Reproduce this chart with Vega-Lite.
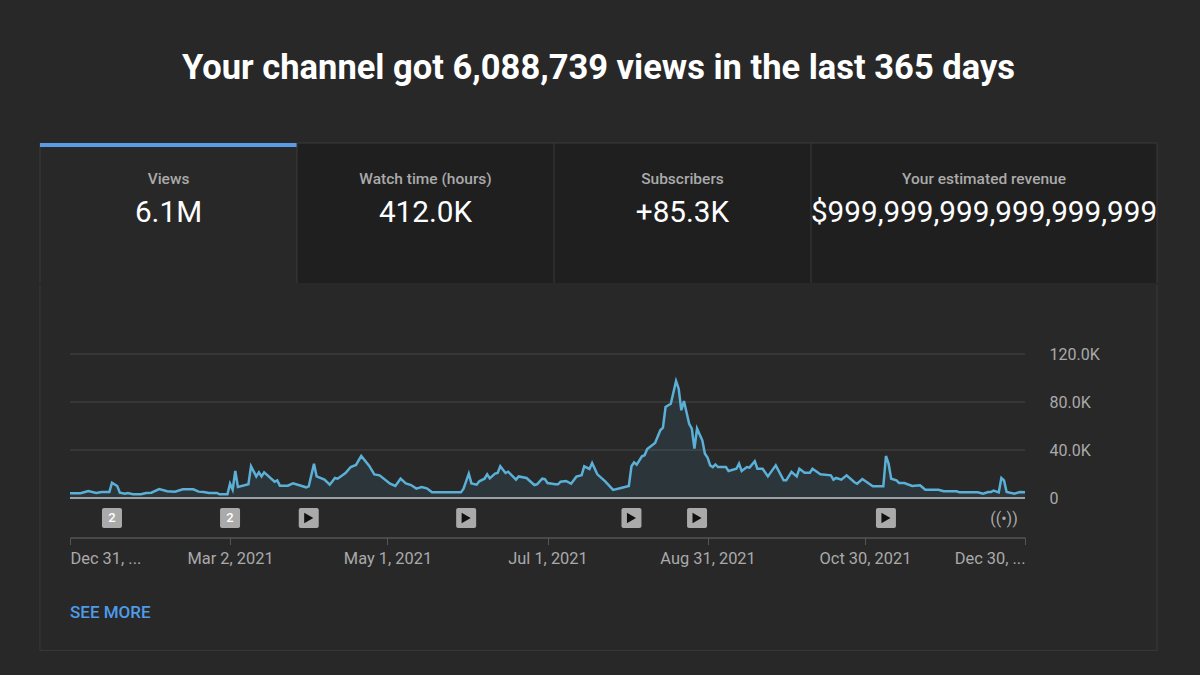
{
  "$schema": "https://vega.github.io/schema/vega-lite/v6.json",
  "background": "#282828",
  "padding": {"left": 38, "top": 0, "right": 43, "bottom": 25},
  "spacing": 0,
  "config": {"font": "Roboto", "concat": {"spacing": 0}},
  "datasets": {
    "views": [
      {"date":"2020-12-31","views":3900},{"date":"2021-01-04","views":3900},{"date":"2021-01-07","views":5800},{"date":"2021-01-10","views":4200},{"date":"2021-01-12","views":5000},{"date":"2021-01-15","views":5000},{"date":"2021-01-16","views":12800},{"date":"2021-01-18","views":10000},{"date":"2021-01-19","views":4400},{"date":"2021-01-21","views":3600},{"date":"2021-01-22","views":4200},{"date":"2021-01-24","views":3100},{"date":"2021-01-27","views":3100},{"date":"2021-01-29","views":4200},{"date":"2021-01-31","views":4400},
      {"date":"2021-02-03","views":7500},{"date":"2021-02-06","views":5600},{"date":"2021-02-09","views":5300},{"date":"2021-02-12","views":7200},{"date":"2021-02-16","views":7200},{"date":"2021-02-18","views":5300},{"date":"2021-02-20","views":5000},{"date":"2021-02-22","views":4200},{"date":"2021-02-25","views":4200},{"date":"2021-02-26","views":3100},
      {"date":"2021-03-01","views":3100},{"date":"2021-03-02","views":11900},{"date":"2021-03-03","views":6900},{"date":"2021-03-04","views":22500},{"date":"2021-03-05","views":9200},{"date":"2021-03-09","views":11400},{"date":"2021-03-10","views":26400},{"date":"2021-03-12","views":18000},{"date":"2021-03-13","views":21400},{"date":"2021-03-14","views":18000},{"date":"2021-03-15","views":21400},{"date":"2021-03-19","views":13600},{"date":"2021-03-20","views":14700},{"date":"2021-03-21","views":10300},{"date":"2021-03-24","views":10300},{"date":"2021-03-26","views":12200},{"date":"2021-03-31","views":8900},
      {"date":"2021-04-01","views":9700},{"date":"2021-04-03","views":28600},{"date":"2021-04-04","views":18000},{"date":"2021-04-07","views":15300},{"date":"2021-04-09","views":11100},{"date":"2021-04-11","views":16700},{"date":"2021-04-12","views":16100},{"date":"2021-04-15","views":20800},{"date":"2021-04-17","views":25800},{"date":"2021-04-19","views":27500},{"date":"2021-04-21","views":35000},{"date":"2021-04-24","views":26900},{"date":"2021-04-26","views":19700},{"date":"2021-04-28","views":18900},
      {"date":"2021-05-02","views":11900},{"date":"2021-05-04","views":10000},{"date":"2021-05-06","views":16100},{"date":"2021-05-08","views":12200},{"date":"2021-05-10","views":10800},{"date":"2021-05-12","views":7800},{"date":"2021-05-14","views":9200},{"date":"2021-05-16","views":8100},{"date":"2021-05-18","views":4700},{"date":"2021-05-29","views":4700},{"date":"2021-05-30","views":7800},
      {"date":"2021-06-01","views":20300},{"date":"2021-06-02","views":12200},{"date":"2021-06-04","views":11100},{"date":"2021-06-05","views":13900},{"date":"2021-06-07","views":16100},{"date":"2021-06-08","views":19700},{"date":"2021-06-09","views":16400},{"date":"2021-06-11","views":20300},{"date":"2021-06-12","views":20800},{"date":"2021-06-13","views":26400},{"date":"2021-06-15","views":20800},{"date":"2021-06-16","views":21900},{"date":"2021-06-19","views":15300},{"date":"2021-06-20","views":18000},{"date":"2021-06-23","views":16700},{"date":"2021-06-26","views":10800},{"date":"2021-06-27","views":11400},{"date":"2021-06-29","views":16100},{"date":"2021-06-30","views":15800},
      {"date":"2021-07-01","views":12500},{"date":"2021-07-04","views":11400},{"date":"2021-07-05","views":11400},{"date":"2021-07-06","views":13600},{"date":"2021-07-08","views":14200},{"date":"2021-07-10","views":11900},{"date":"2021-07-12","views":17800},{"date":"2021-07-14","views":18900},{"date":"2021-07-15","views":26400},{"date":"2021-07-17","views":24200},{"date":"2021-07-18","views":29200},{"date":"2021-07-20","views":19700},{"date":"2021-07-23","views":13900},{"date":"2021-07-26","views":6700},{"date":"2021-07-29","views":8300},
      {"date":"2021-08-01","views":10000},{"date":"2021-08-02","views":26400},{"date":"2021-08-03","views":29700},{"date":"2021-08-04","views":27800},{"date":"2021-08-06","views":34700},{"date":"2021-08-07","views":35600},{"date":"2021-08-08","views":40800},{"date":"2021-08-11","views":45800},{"date":"2021-08-13","views":56400},{"date":"2021-08-14","views":58600},{"date":"2021-08-15","views":75800},{"date":"2021-08-17","views":78600},{"date":"2021-08-19","views":97500},{"date":"2021-08-20","views":91100},{"date":"2021-08-21","views":73100},{"date":"2021-08-22","views":80800},{"date":"2021-08-24","views":61900},{"date":"2021-08-25","views":57800},{"date":"2021-08-26","views":41100},{"date":"2021-08-27","views":57800},{"date":"2021-08-29","views":48100},{"date":"2021-08-30","views":36900},{"date":"2021-08-31","views":33600},
      {"date":"2021-09-01","views":27200},{"date":"2021-09-02","views":25800},{"date":"2021-09-03","views":28000},{"date":"2021-09-04","views":25800},{"date":"2021-09-07","views":25800},{"date":"2021-09-08","views":22500},{"date":"2021-09-11","views":24400},{"date":"2021-09-12","views":28600},{"date":"2021-09-13","views":22500},{"date":"2021-09-15","views":25800},{"date":"2021-09-16","views":25300},{"date":"2021-09-18","views":30600},{"date":"2021-09-19","views":24400},{"date":"2021-09-21","views":24400},{"date":"2021-09-23","views":18000},{"date":"2021-09-26","views":27200},{"date":"2021-09-29","views":14700},{"date":"2021-09-30","views":14700},
      {"date":"2021-10-02","views":21700},{"date":"2021-10-04","views":18000},{"date":"2021-10-05","views":24400},{"date":"2021-10-07","views":21100},{"date":"2021-10-09","views":21100},{"date":"2021-10-10","views":24400},{"date":"2021-10-13","views":19700},{"date":"2021-10-17","views":18900},{"date":"2021-10-18","views":15300},{"date":"2021-10-19","views":16700},{"date":"2021-10-21","views":15300},{"date":"2021-10-23","views":18900},{"date":"2021-10-26","views":13100},{"date":"2021-10-27","views":11900},{"date":"2021-10-29","views":15800},
      {"date":"2021-11-02","views":9700},{"date":"2021-11-06","views":9700},{"date":"2021-11-07","views":35000},{"date":"2021-11-08","views":28600},{"date":"2021-11-09","views":16100},{"date":"2021-11-11","views":14700},{"date":"2021-11-12","views":12500},{"date":"2021-11-14","views":12500},{"date":"2021-11-17","views":10000},{"date":"2021-11-20","views":10600},{"date":"2021-11-22","views":6900},{"date":"2021-11-27","views":6900},{"date":"2021-11-29","views":5600},
      {"date":"2021-12-04","views":5600},{"date":"2021-12-05","views":4700},{"date":"2021-12-12","views":4700},{"date":"2021-12-14","views":3600},{"date":"2021-12-16","views":5000},{"date":"2021-12-17","views":5000},{"date":"2021-12-18","views":6100},{"date":"2021-12-20","views":4700},{"date":"2021-12-21","views":16700},{"date":"2021-12-22","views":14700},{"date":"2021-12-23","views":5000},{"date":"2021-12-26","views":3600},{"date":"2021-12-28","views":5000},{"date":"2021-12-30","views":4700}
    ],
    "markers": [
      {"date":"2021-01-16","kind":"2"},{"date":"2021-03-02","kind":"2"},{"date":"2021-04-01","kind":"play"},{"date":"2021-05-31","kind":"play"},{"date":"2021-08-02","kind":"play"},{"date":"2021-08-27","kind":"play"},{"date":"2021-11-07","kind":"play"},{"date":"2021-12-22","kind":"live"}
    ],
    "gridlines": [
      {"level":0,"from":"2020-12-31","to":"2021-12-30"},{"level":40000,"from":"2020-12-31","to":"2021-12-30"},{"level":80000,"from":"2020-12-31","to":"2021-12-30"},{"level":120000,"from":"2020-12-31","to":"2021-12-30"}
    ],
    "frame": [{"date":"2020-12-19T13:00:00Z"},{"date":"2022-02-18T08:00:00Z"}]
  },
  "vconcat": [
    {
      "width": 1117, "height": 142, "view": {"stroke": null},
      "data": {"values": [{"headline": "Your channel got 6,088,739 views in the last 365 days"}]},
      "mark": {"type": "text", "color": "#ffffff", "fontSize": 34.5, "fontWeight": "bold"},
      "encoding": {
        "text": {"field": "headline"},
        "y": {"datum": 69, "scale": {"domain": [142, 0], "nice": false, "zero": false}, "axis": null}
      }
    },
    {
      "spacing": 0,
      "bounds": "flush",
      "hconcat": [
        {
          "width": 257, "height": 140, "view": {"fill": "#282828", "stroke": null},
          "data": {"values": [{"label": "Views", "value": "6.1M"}]},
          "layer": [
            {"mark": {"type": "rule", "color": "#3a3a3a"}, "encoding": {"x": {"datum": 0, "scale": {"domain": [0, 1]}, "axis": null}}},
            {"mark": {"type": "rule", "color": "#5a9be8", "strokeWidth": 4}, "encoding": {"y": {"datum": 2, "scale": {"domain": [140, 0], "nice": false, "zero": false}, "axis": null}}},
            {"mark": {"type": "text", "color": "#aaaaaa", "fontSize": 15.5, "fontWeight": 500}, "encoding": {"text": {"field": "label"}, "y": {"datum": 36}}},
            {"mark": {"type": "text", "color": "#ffffff", "fontSize": 29.7}, "encoding": {"text": {"field": "value"}, "y": {"datum": 70}}}
          ]
        },
        {
          "width": 257, "height": 140, "view": {"fill": "#1f1f1f", "stroke": null},
          "data": {"values": [{"label": "Watch time (hours)", "value": "412.0K"}]},
          "layer": [
            {"mark": {"type": "rule", "color": "#3a3a3a"}, "encoding": {"x": {"datum": 0, "scale": {"domain": [0, 1]}, "axis": null}}},
            {"mark": {"type": "rule", "color": "#3a3a3a"}, "encoding": {"y": {"datum": 0, "scale": {"domain": [140, 0], "nice": false, "zero": false}, "axis": null}}},
            {"mark": {"type": "text", "color": "#aaaaaa", "fontSize": 15.5, "fontWeight": 500}, "encoding": {"text": {"field": "label"}, "y": {"datum": 36}}},
            {"mark": {"type": "text", "color": "#ffffff", "fontSize": 29.7}, "encoding": {"text": {"field": "value"}, "y": {"datum": 70}}}
          ]
        },
        {
          "width": 257, "height": 140, "view": {"fill": "#1f1f1f", "stroke": null},
          "data": {"values": [{"label": "Subscribers", "value": "+85.3K"}]},
          "layer": [
            {"mark": {"type": "rule", "color": "#3a3a3a"}, "encoding": {"x": {"datum": 0, "scale": {"domain": [0, 1]}, "axis": null}}},
            {"mark": {"type": "rule", "color": "#3a3a3a"}, "encoding": {"y": {"datum": 0, "scale": {"domain": [140, 0], "nice": false, "zero": false}, "axis": null}}},
            {"mark": {"type": "text", "color": "#aaaaaa", "fontSize": 15.5, "fontWeight": 500}, "encoding": {"text": {"field": "label"}, "y": {"datum": 36}}},
            {"mark": {"type": "text", "color": "#ffffff", "fontSize": 29.7}, "encoding": {"text": {"field": "value"}, "y": {"datum": 70}}}
          ]
        },
        {
          "width": 346, "height": 140, "view": {"fill": "#1f1f1f", "stroke": null},
          "data": {"values": [{"label": "Your estimated revenue", "value": "$999,999,999,999,999,999"}]},
          "layer": [
            {"mark": {"type": "rule", "color": "#3a3a3a"}, "encoding": {"x": {"datum": 0, "scale": {"domain": [0, 1]}, "axis": null}}},
            {"mark": {"type": "rule", "color": "#3a3a3a"}, "encoding": {"x": {"datum": 1}}},
            {"mark": {"type": "rule", "color": "#3a3a3a"}, "encoding": {"y": {"datum": 0, "scale": {"domain": [140, 0], "nice": false, "zero": false}, "axis": null}}},
            {"mark": {"type": "text", "color": "#aaaaaa", "fontSize": 15.5, "fontWeight": 500}, "encoding": {"text": {"field": "label"}, "y": {"datum": 36}}},
            {"mark": {"type": "text", "color": "#ffffff", "fontSize": 29.7}, "encoding": {"text": {"field": "value"}, "y": {"datum": 70}}}
          ]
        }
      ]
    },
    {
      "width": 1117,
      "height": 366,
      "view": {"stroke": null},
      "encoding": {
        "x": {
          "field": "date",
          "type": "temporal",
          "title": null,
          "scale": {"type": "utc", "domain": ["2020-12-31", "2021-12-30"], "range": [30, 985], "nice": false},
          "axis": {
            "orient": "bottom", "offset": -113.5, "grid": false,
            "values": ["2020-12-31", "2021-03-02", "2021-05-01", "2021-07-01", "2021-08-31", "2021-10-30", "2021-12-30"],
            "labelExpr": "datum.index == 0 ? 'Dec 31, ...' : datum.index == 1 ? 'Dec 30, ...' : utcFormat(datum.value, '%b %-d, %Y')",
            "labelFlush": true, "labelOverlap": false, "labelColor": "#aaaaaa", "labelFontSize": 16.4, "labelPadding": 5.5,
            "domainColor": "#555555", "domainWidth": 1.5, "tickColor": "#555555", "tickSize": 7
          }
        }
      },
      "layer": [
        {
          "data": {"name": "frame"},
          "mark": {"type": "rule", "color": "#3a3a3a"}
        },
        {
          "data": {"values": [{"edge": "bottom"}]},
          "mark": {"type": "rule", "color": "#3a3a3a"},
          "encoding": {"x": null, "y": {"datum": -127000}}
        },
        {
          "data": {"name": "gridlines"},
          "mark": {"type": "rule", "strokeWidth": 1.5},
          "encoding": {
            "x": {"field": "from"},
            "x2": {"field": "to"},
            "y": {
              "field": "level",
              "type": "quantitative",
              "title": null,
              "scale": {"domain": [0, 120000], "range": [213, 69], "nice": false},
              "axis": {
                "orient": "right", "offset": -132, "grid": false, "domain": false, "ticks": false,
                "values": [0, 40000, 80000, 120000],
                "labelExpr": "datum.value == 0 ? '0' : format(datum.value / 1000, '.1f') + 'K'",
                "labelColor": "#aaaaaa", "labelFontSize": 16, "labelPadding": 24
              }
            },
            "color": {"condition": {"test": "datum.level == 0", "value": "#c8c8c8"}, "value": "#3d3d3d"}
          }
        },
        {
          "data": {"name": "views"},
          "mark": {"type": "area", "color": "#5ab0d6", "opacity": 0.1},
          "encoding": {"y": {"field": "views", "type": "quantitative"}}
        },
        {
          "data": {"name": "views"},
          "mark": {"type": "line", "color": "#5ab0d6", "strokeWidth": 2.5},
          "encoding": {"y": {"field": "views", "type": "quantitative"}}
        },
        {
          "data": {"name": "markers"},
          "transform": [{"filter": "datum.kind != 'live'"}],
          "mark": {"type": "rect", "width": 20, "height": 20, "cornerRadius": 2, "color": "#aaaaaa"},
          "encoding": {"y": {"datum": -16700}}
        },
        {
          "data": {"name": "markers"},
          "transform": [{"filter": "datum.kind == '2'"}],
          "mark": {"type": "text", "color": "#ffffff", "fontSize": 13, "fontWeight": 500},
          "encoding": {"y": {"datum": -16700}, "text": {"field": "kind"}}
        },
        {
          "data": {"name": "markers"},
          "transform": [{"filter": "datum.kind == 'play'"}],
          "mark": {"type": "point", "shape": "triangle-right", "filled": true, "color": "#111111", "size": 110, "opacity": 1},
          "encoding": {"y": {"datum": -16700}}
        },
        {
          "data": {"name": "markers"},
          "transform": [{"filter": "datum.kind == 'live'"}, {"calculate": "'((•))'", "as": "icon"}],
          "mark": {"type": "text", "color": "#aaaaaa", "fontSize": 16},
          "encoding": {"y": {"datum": -17500}, "text": {"field": "icon"}}
        },
        {
          "data": {"values": [{"date": "2020-12-31", "link": "SEE MORE"}]},
          "mark": {"type": "text", "color": "#4f9be8", "fontSize": 17, "fontWeight": 500, "align": "left"},
          "encoding": {"y": {"datum": -95800}, "text": {"field": "link"}}
        }
      ]
    }
  ]
}
